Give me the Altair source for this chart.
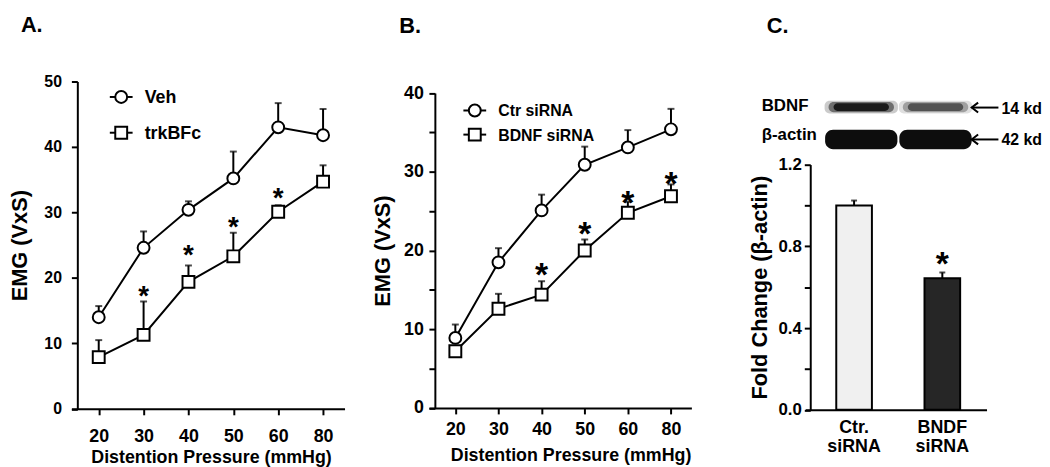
import altair as alt
import pandas as pd

FONT = "Liberation Sans"

# ---------------- data ----------------
pressure = ["20", "30", "40", "50", "60", "80"]

# Panel A
a_series = ["Veh", "trkBFc"]
a_veh_mean = [14.0, 24.6, 30.4, 35.2, 43.0, 41.8]
a_veh_upper = [15.7, 27.1, 31.7, 39.3, 46.7, 45.8]
a_trk_mean = [7.9, 11.3, 19.4, 23.3, 30.1, 34.7]
a_trk_upper = [10.5, 16.4, 21.9, 26.9, 31.1, 37.2]
a_star_x = ["30", "40", "50", "60"]
a_star_y = [18.3, 24.5, 28.9, 33.3]

# Panel B
b_series = ["Ctr siRNA", "BDNF siRNA"]
b_ctr_mean = [8.9, 18.5, 25.1, 30.9, 33.1, 35.4]
b_ctr_upper = [10.6, 20.3, 27.1, 33.2, 35.3, 38.0]
b_bdnf_mean = [7.2, 12.6, 14.4, 20.0, 24.8, 26.9]
b_bdnf_upper = [7.6, 14.5, 16.1, 21.4, 26.2, 28.4]
b_star_x = ["40", "50", "60", "80"]
b_star_y = [17.9, 23.1, 27.0, 29.5]

# Panel C
c_groups = ["Ctr. siRNA", "BNDF siRNA"]
c_mean = [1.0, 0.644]
c_upper = [1.024, 0.672]
c_fill = ["#f0f0f0", "#262626"]
c_star_group = ["BNDF siRNA"]
c_star_y = [0.75]

# Western blot (lane intensities)
blot_rows = ["BDNF", "\u03b2-actin"]
blot_kd = ["14 kd", "42 kd"]
blot_bdnf_intensity = [1.0, 0.6]
blot_actin_intensity = [1.0, 1.0]

BLACK = "#000000"
SHAPES = ["circle", "square"]


def one(**kw):
    return pd.DataFrame({k: [v] for k, v in kw.items()})


def line_panel(title, title_dx, title_offset, names, means, uppers, star_x, star_y,
               ydomain, width, height, yrange, xrange, xpad, xalign,
               ylab_size, ylab_pad, ytitle_pad,
               xlab_pad, xtitle_pad, xtitle_x, star_size, star_dy,
               leg_x, leg_ys, leg_label_x, leg_font):
    rows = []
    for name, m, u in zip(names, means, uppers):
        for p, mv, uv in zip(pressure, m, u):
            rows.append(dict(p=p, series=name, mean=mv, upper=uv))
    df = pd.DataFrame(rows)
    stars = pd.DataFrame(dict(p=star_x, y=star_y))

    yvals = list(range(ydomain[0], ydomain[1] + 1, 5))
    xaxis = alt.Axis(title="Distention Pressure (mmHg)", labelAngle=0, tickSize=6, tickWidth=2,
                     domainWidth=2, domainColor=BLACK, tickColor=BLACK, grid=False,
                     labelFont=FONT, labelFontSize=18, labelFontWeight="bold", labelColor=BLACK,
                     labelPadding=xlab_pad, titleFont=FONT, titleFontSize=18,
                     titleFontWeight="bold", titleColor=BLACK, titlePadding=xtitle_pad,
                     titleX=xtitle_x)
    yaxis = alt.Axis(title="EMG (VxS)", values=yvals,
                     labelExpr="datum.value % 10 === 0 ? datum.label : ''",
                     tickSize=6, tickWidth=2, domainWidth=2, domainColor=BLACK, tickColor=BLACK,
                     grid=False, labelFont=FONT, labelFontSize=ylab_size, labelFontWeight="bold",
                     labelColor=BLACK, labelPadding=ylab_pad, titleFont=FONT, titleFontSize=22,
                     titleFontWeight="bold", titleColor=BLACK, titlePadding=ytitle_pad)
    xenc = alt.X("p:O", sort=pressure,
                 scale=alt.Scale(type="point", padding=xpad, align=xalign, range=xrange),
                 axis=xaxis)
    yscale = alt.Scale(domain=ydomain, nice=False, range=yrange)

    base = alt.Chart(df)
    line = base.mark_line(strokeWidth=2).encode(
        x=xenc,
        y=alt.Y("mean:Q", scale=yscale, axis=yaxis),
        detail="series:N",
        color=alt.value(BLACK),
    )
    err = base.mark_rule(strokeWidth=2, color=BLACK).encode(
        x=xenc, y=alt.Y("mean:Q", scale=yscale), y2="upper:Q")
    cap = base.mark_tick(thickness=2, size=7, color=BLACK).encode(
        x=xenc, y=alt.Y("upper:Q", scale=yscale))
    pts = base.mark_point(filled=True, fill="white", stroke=BLACK, strokeWidth=2, size=144,
                          opacity=1).encode(
        x=xenc, y=alt.Y("mean:Q", scale=yscale),
        shape=alt.Shape("series:N", scale=alt.Scale(domain=names, range=SHAPES), legend=None),
    )
    star = alt.Chart(stars).mark_text(text="*", font=FONT, fontSize=star_size, fontWeight="bold",
                                      baseline="middle", dy=star_dy, color=BLACK).encode(
        x=xenc, y=alt.Y("y:Q", scale=yscale))

    layers = [line, err, cap, pts, star]
    # hand-made legend: line stub + marker + label for each series
    for name, shp, ly in zip(names, SHAPES, leg_ys):
        d = one(name=name)
        layers.append(alt.Chart(d).mark_rule(strokeWidth=2, color=BLACK).encode(
            x=alt.value(leg_x - 11.5), x2=alt.value(leg_x + 11.5), y=alt.value(ly)))
        layers.append(alt.Chart(d).mark_point(shape=shp, filled=True, fill="white", stroke=BLACK,
                                              strokeWidth=2, size=144, opacity=1).encode(
            x=alt.value(leg_x), y=alt.value(ly)))
        layers.append(alt.Chart(d).mark_text(align="left", baseline="middle", font=FONT,
                                             fontSize=leg_font, fontWeight="bold",
                                             color=BLACK).encode(
            text="name:N", x=alt.value(leg_label_x), y=alt.value(ly + 1)))

    return alt.layer(*layers).properties(
        width=width, height=height,
        title=alt.TitleParams(title, anchor="start", frame="group", dx=title_dx,
                              offset=title_offset, font=FONT, fontSize=22, fontWeight="bold",
                              color=BLACK),
    )


panel_a = line_panel("A.", -57, 37.4, a_series, [a_veh_mean, a_trk_mean], [a_veh_upper, a_trk_upper],
                     a_star_x, a_star_y, [0, 50], 270, 330.5, [330.5, 0], [-6, 269.8], 0.544, 0.56,
                     16, 10, 13, 13, 3.4, 135,
                     28, 8, 44.3, [15.6, 51.7], 68, 18)
panel_b = line_panel("B.", -36, 44, b_series, [b_ctr_mean, b_bdnf_mean], [b_ctr_upper, b_bdnf_upper],
                     b_star_x, b_star_y, [0, 40], 259, 329.6, [329.6, 11.7], [-6, 259], 0.543, 0.564,
                     18, 5.6, 9, 7, 7.6, 137,
                     34, 9, 40.3, [29.25, 53.6], 64, 16)

# ---------------- panel C ----------------
C_TOP = 83.85
C_H = 331.5
dfc = pd.DataFrame(dict(group=c_groups, mean=c_mean, upper=c_upper, fill=c_fill))
starc = pd.DataFrame(dict(group=c_star_group, y=c_star_y))

cx = alt.X("group:N", sort=c_groups,
           scale=alt.Scale(paddingInner=0.596, paddingOuter=0.325, align=0.54, range=[-5, 178]),
           axis=alt.Axis(title=None, labelExpr="split(datum.label, ' ')", ticks=False, labelAngle=0,
                         domainWidth=2, domainColor=BLACK, labelFont=FONT, labelFontSize=18,
                         labelFontWeight="bold", labelColor=BLACK, labelLineHeight=19.5,
                         labelPadding=9, grid=False))
cyscale = alt.Scale(domain=[0, 1.2], nice=False, range=[C_H, C_TOP])
cyaxis = alt.Axis(title="Fold Change (\u03b2-actin)", values=[0, 0.2, 0.4, 0.6, 0.8, 1.0, 1.2],
                  labelExpr="round(datum.value * 10) % 4 === 0 ? format(datum.value, '.1f') : ''",
                  tickSize=6, tickWidth=2, domainWidth=2, domainColor=BLACK, tickColor=BLACK,
                  grid=False, labelFont=FONT, labelFontSize=17, labelFontWeight="bold",
                  labelColor=BLACK, labelPadding=3, titleFont=FONT, titleFontSize=22,
                  titleFontWeight="bold", titleColor=BLACK, titlePadding=7)

bars = alt.Chart(dfc).mark_bar(stroke=BLACK, strokeWidth=2).encode(
    x=cx, y=alt.Y("mean:Q", scale=cyscale, axis=cyaxis), fill=alt.Fill("fill:N", scale=None))
cerr = alt.Chart(dfc).mark_rule(strokeWidth=2, color=BLACK).encode(
    x=cx, y=alt.Y("mean:Q", scale=cyscale), y2="upper:Q")
ccap = alt.Chart(dfc).mark_tick(thickness=2, size=6, color=BLACK).encode(
    x=cx, y=alt.Y("upper:Q", scale=cyscale))
cstar = alt.Chart(starc).mark_text(text="*", font=FONT, fontSize=34, fontWeight="bold",
                                   baseline="middle", dy=9, color=BLACK).encode(
    x=cx, y=alt.Y("y:Q", scale=cyscale))
bar_group = alt.layer(bars, cerr, ccap, cstar)

# blot
lane_x = alt.X("lane:N", sort=c_groups, scale=alt.Scale(paddingInner=0.04, paddingOuter=0.207),
               axis=None)
bdnf_y = (19.5, 32.2)
actin_y = (48.8, 68.3)
blot_layers = []
for w, inset, rad, factor in [(74, 0, 5, 0.22), (66, 1.2, 5, 0.5), (56, 2.4, 4, 0.9)]:
    dfb = pd.DataFrame(dict(lane=c_groups, op=[factor * v for v in blot_bdnf_intensity]))
    blot_layers.append(
        alt.Chart(dfb).mark_bar(width=w, cornerRadius=rad, color="#111111").encode(
            x=lane_x, y=alt.value(bdnf_y[0] + inset), y2=alt.value(bdnf_y[1] - inset),
            opacity=alt.Opacity("op:Q", scale=None)))
dfa = pd.DataFrame(dict(lane=c_groups, op=blot_actin_intensity))
blot_layers.append(
    alt.Chart(dfa).mark_bar(width=73, cornerRadius=8, color="#0d0d0d").encode(
        x=lane_x, y=alt.value(actin_y[0]), y2=alt.value(actin_y[1]),
        opacity=alt.Opacity("op:Q", scale=None)))

label_base = [30.2, 59.5]
arrow_y = [26.3, 58.5]
for name, kd, lb, ay in zip(blot_rows, blot_kd, label_base, arrow_y):
    dft = one(name=name, kd=kd)
    blot_layers.append(alt.Chart(dft).mark_text(align="left", baseline="alphabetic", font=FONT,
                                                fontSize=17, fontWeight="bold", color=BLACK).encode(
        text="name:N", x=alt.value(-49), y=alt.value(lb)))
    blot_layers.append(alt.Chart(dft).mark_rule(strokeWidth=2, color=BLACK).encode(
        x=alt.value(163), x2=alt.value(190), y=alt.value(ay)))
    blot_layers.append(alt.Chart(dft).mark_point(shape="M1.3,-1L0,0L1.3,1", filled=False,
                                                 stroke=BLACK, strokeWidth=2, size=100,
                                                 opacity=1).encode(
        x=alt.value(163), y=alt.value(ay)))
    blot_layers.append(alt.Chart(dft).mark_text(align="left", baseline="middle", font=FONT,
                                                fontSize=16, fontWeight="bold", color=BLACK).encode(
        text="kd:N", x=alt.value(193), y=alt.value(ay + 1)))

blot_group = alt.layer(*blot_layers)

panel_c = alt.layer(bar_group, blot_group).resolve_scale(x="independent").properties(
    width=178, height=C_H,
    title=alt.TitleParams("C.", anchor="start", frame="group", dx=-44, offset=44, font=FONT,
                          fontSize=22, fontWeight="bold", color=BLACK),
)

chart = alt.hconcat(alt.hconcat(panel_a, panel_b, spacing=21), panel_c, spacing=51).properties(
    padding={"top": 3, "left": 0, "right": 0, "bottom": 0}, background="white"
).configure_view(stroke=None)

chart.save("out.html", embed_options={"renderer": "svg", "actions": False})
